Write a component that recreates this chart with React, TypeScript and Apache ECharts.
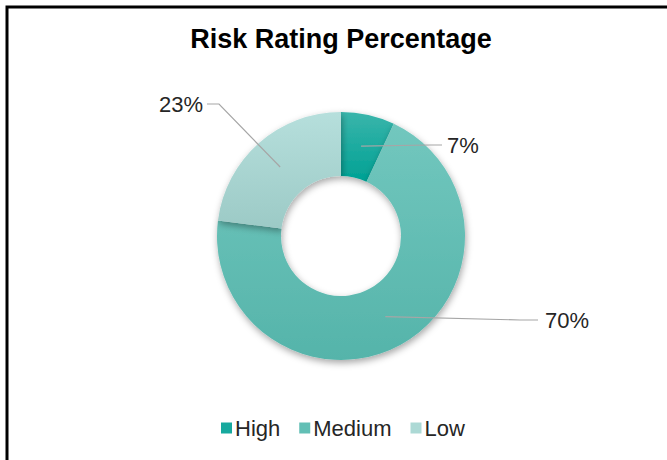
import React, { useEffect, useRef } from "react";
import * as echarts from "echarts";

const categories = ["High", "Medium", "Low"];
const values = [7, 70, 23];

const TOP_COLORS = ["#3ab5ab", "#72c7be", "#b6dfdc"];
const BOTTOM_COLORS = ["#00a194", "#55b4aa", "#9ccac6"];
const LEGEND_COLORS = ["#17a99e", "#62bfb5", "#acd9d5"];

const CX = 341;
const CY = 236;
const R_IN = 60;
const R_OUT = 124;

// label placement (layout, not data)
const LABEL_LAYOUT = [
  { x: 447, y: 145, align: "left", elbow: [430, 145], end: [442, 145] },
  { x: 545, y: 320, align: "left", elbow: [520, 320], end: [538, 320] },
  { x: 203, y: 104, align: "right", elbow: [219, 104], end: [207, 104] },
];

const FONT = "'Liberation Sans', Arial, Helvetica, sans-serif";

export default function App() {
  const ref = useRef<HTMLDivElement>(null);
  useEffect(() => {
    if (!ref.current) return;
    const chart = echarts.init(ref.current, undefined, { renderer: "svg" });
    const total = values.reduce((a, b) => a + b, 0);
    const midAngle = (i: number) => {
      let before = 0;
      for (let k = 0; k < i; k++) before += values[k];
      return ((before + values[i] / 2) / total) * Math.PI * 2;
    };
    const rMid = (R_IN + R_OUT) / 2;
    const pieBase = {
      type: "pie",
      center: [CX, CY],
      radius: [R_IN, R_OUT],
      startAngle: 90,
      clockwise: true,
      emphasis: { disabled: true },
    };
    chart.setOption({
      animation: false,
      backgroundColor: "#ffffff",
      title: {
        text: "Risk Rating Percentage",
        left: 341,
        textAlign: "center",
        top: 25,
        padding: 0,
        textStyle: { fontFamily: FONT, fontSize: 27, fontWeight: "bold", color: "#000" },
      },
      legend: {
        data: categories.map((c, i) => ({
          name: c,
          itemStyle: { color: LEGEND_COLORS[i], shadowBlur: 0, shadowOffsetX: 0, shadowOffsetY: 0 },
        })),
        left: 221,
        top: 417,
        padding: 0,
        itemWidth: 11,
        itemHeight: 11,
        itemGap: 19,
        icon: "rect",
        textStyle: { fontFamily: FONT, fontSize: 22, color: "#262626", padding: [0, 0, 0, -2] },
      },
      graphic: [
        {
          type: "rect",
          shape: { x: 7, y: 7, width: 720, height: 520 },
          style: { fill: "none", stroke: "#000", lineWidth: 3 },
          silent: true,
          z: 100,
        },
      ],
      series: [
        {
          ...pieBase,
          z: 2,
          data: categories.map((c, i) => ({
            name: c,
            value: values[i],
            itemStyle: {
              color: new echarts.graphic.LinearGradient(0, 0, 0, 1, [
                { offset: 0, color: TOP_COLORS[i] },
                { offset: 1, color: BOTTOM_COLORS[i] },
              ]),
            },
          })),
          itemStyle: {
            borderWidth: 0,
            shadowBlur: 7,
            shadowColor: "rgba(0,0,0,0.35)",
            shadowOffsetX: 1,
            shadowOffsetY: 3,
          },
          label: { show: false },
          labelLine: { show: false },
        },
        {
          ...pieBase,
          z: 5,
          silent: true,
          data: categories.map((c, i) => ({ name: c, value: values[i] })),
          itemStyle: { color: "rgba(0,0,0,0)", borderWidth: 0 },
          label: {
            show: true,
            position: "outside",
            formatter: "{c}%",
            fontFamily: FONT,
            fontSize: 22,
            color: "#262626",
          },
          labelLine: {
            show: true,
            lineStyle: { color: "#a6a6a6", width: 1.2 },
          },
          labelLayout: (params: any) => {
            const i = params.dataIndex;
            const L = LABEL_LAYOUT[i];
            const a = midAngle(i);
            const sx = CX + rMid * Math.sin(a);
            const sy = CY - rMid * Math.cos(a);
            return {
              x: L.x,
              y: L.y,
              align: L.align,
              verticalAlign: "middle",
              labelLinePoints: [[sx, sy], L.elbow, L.end],
            };
          },
        },
      ],
    });
    return () => chart.dispose();
  }, []);
  return (
    <div
      ref={ref}
      style={{ position: "fixed", left: 0, top: 0, width: 667, height: 460 }}
    />
  );
}
